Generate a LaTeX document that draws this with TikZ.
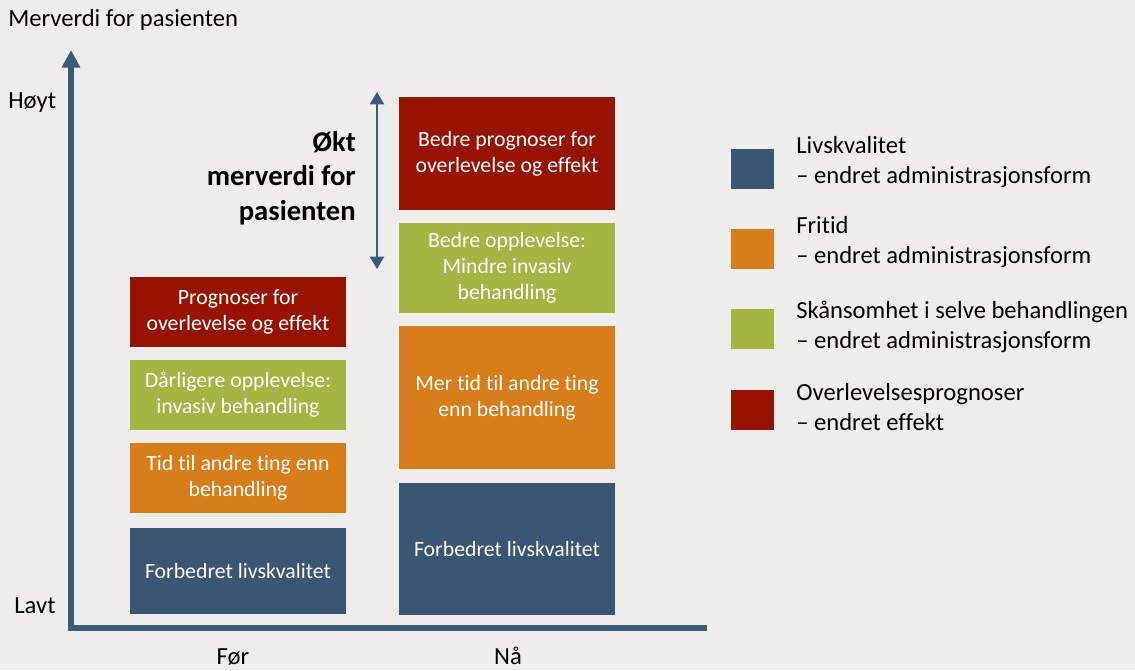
\documentclass[tikz,border=0pt]{standalone}
\usepackage{fontspec}
\setmainfont[Ligatures=NoCommon]{Carlito}
\usetikzlibrary{arrows.meta,positioning}

\definecolor{bakgrunn}{HTML}{EFEEEC}
\definecolor{akse}{HTML}{3C5A7A}
\definecolor{blaa}{HTML}{3A5673}
\definecolor{oransje}{HTML}{D77D1A}
\definecolor{gronn}{HTML}{A6B443}
\definecolor{rod}{HTML}{951300}

\tikzset{
  boks/.style={fill=#1, text=white, align=center, inner sep=2pt,
               minimum width=4.32cm, font=\fontsize{12.4}{14.7}\selectfont},
  firkant/.style={fill=#1, minimum width=0.86cm, minimum height=0.8cm, inner sep=0pt},
  forklaring/.style={anchor=west, align=left, inner sep=0pt,
               font=\fontsize{14}{17}\selectfont},
  etikett/.style={inner sep=0pt, font=\fontsize{14}{16}\selectfont}
}

\begin{document}
\begin{tikzpicture}[x=0.02cm, y=-0.02cm]
    % Bakgrunn og ramme for bildet
    \fill[bakgrunn] (0,0) rectangle (1135,670);
    \useasboundingbox (0,0) rectangle (1135,670);

    % Akser
    \coordinate (origo) at (71,628);
    \coordinate (ytopp) at (71,50);
    \coordinate (xstart) at (68,628);
    \coordinate (xslutt) at (707,628);
    \draw[akse, line width=3.4pt, -{Triangle[width=10pt,length=10pt]}] ([yshift=-1.7pt]origo) -- (ytopp);
    \draw[akse, line width=3.4pt] (xstart) -- (xslutt);

    % Aksetekster
    \node[etikett, anchor=west] (tittel) at (8,20) {Merverdi for pasienten};
    \node[etikett, anchor=west] (hoyt) at (8,103) {Høyt};
    \node[etikett, anchor=west] (lavt) at (14,606) {Lavt};
    \node[etikett, anchor=base] (for) at (233,664) {Før};
    \node[etikett, anchor=base] (naa) at (508,664) {Nå};

    % Før-kolonnen
    \node[boks=blaa, minimum height=1.72cm] (forLiv) at (238,571) {Forbedret livskvalitet};
    \node[boks=oransje, minimum height=1.4cm] (forTid) at (238,478) {Tid til andre ting enn\\behandling};
    \node[boks=gronn, minimum height=1.4cm] (forOpp) at (238,395) {Dårligere opplevelse:\\invasiv behandling};
    \node[boks=rod, minimum height=1.4cm] (forProg) at (238,312) {Prognoser for\\overlevelse og effekt};

    % Nå-kolonnen
    \node[boks=blaa, minimum height=2.64cm] (naaLiv) at (507,549) {Forbedret livskvalitet};
    \node[boks=oransje, minimum height=2.86cm] (naaTid) at (507,397.5) {Mer tid til andre ting\\enn behandling};
    \node[boks=gronn, minimum height=1.8cm] (naaOpp) at (507,268) {Bedre opplevelse:\\Mindre invasiv\\behandling};
    \node[boks=rod, minimum height=2.26cm] (naaProg) at (507,153.5) {Bedre prognoser for\\overlevelse og effekt};

    % Dobbeltpil med økt merverdi
    \coordinate (pilTopp) at (377,92);
    \coordinate (pilBunn) at (377,269);
    \draw[akse, line width=1.1pt, {Triangle[width=8pt,length=7pt]}-{Triangle[width=8pt,length=7pt]}] (pilTopp) -- (pilBunn);
    \node[anchor=east, align=right, inner sep=0pt, font=\fontsize{16.3}{19.8}\selectfont\bfseries] (okt) at (356,178) {Økt\\merverdi for\\pasienten};

    % Forklaring
    \node[firkant=blaa] (fBlaa) at (752.5,169) {};
    \node[forklaring] (tBlaa) at (796,162) {Livskvalitet\\– endret administrasjonsform};
    \node[firkant=oransje] (fOransje) at (752.5,249) {};
    \node[forklaring] (tOransje) at (796,242) {Fritid\\– endret administrasjonsform};
    \node[firkant=gronn] (fGronn) at (752.5,329) {};
    \node[forklaring] (tGronn) at (796,327) {Skånsomhet i selve behandlingen\\– endret administrasjonsform};
    \node[firkant=rod] (fRod) at (752.5,410) {};
    \node[forklaring] (tRod) at (796,407) {Overlevelsesprognoser\\– endret effekt};
\end{tikzpicture}
\end{document}
